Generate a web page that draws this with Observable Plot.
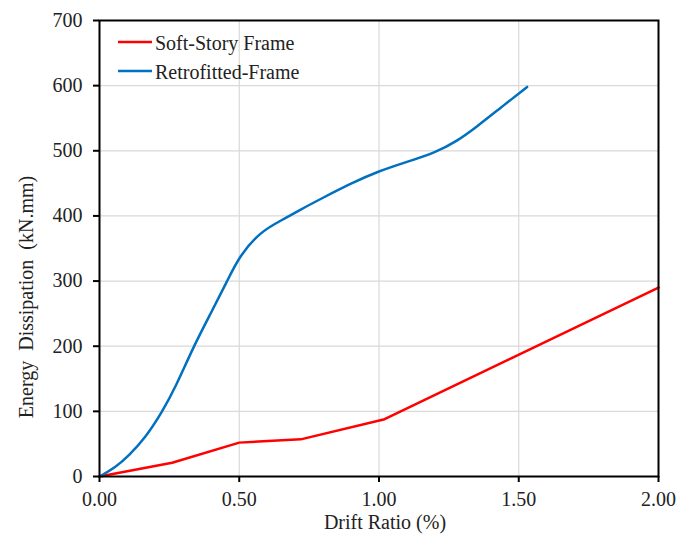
<!DOCTYPE html>
<html><head><meta charset="utf-8">
<script src="https://cdn.jsdelivr.net/npm/d3@7"></script>
<script src="https://cdn.jsdelivr.net/npm/@observablehq/plot@0.6"></script>
<style>
body{margin:0;background:#fff}
#chart{position:relative;width:689px;height:547px}
</style>
</head><body><div id="chart"></div>
<script>
const seriesNames = ["Soft-Story Frame", "Retrofitted-Frame"];
const seriesColors = ["#ff0000", "#0070c0"];
const softDrift  = [0, 0.26, 0.50, 0.72, 1.02, 2.00];
const softEnergy = [0, 21, 52, 57, 88, 290];
const retroDrift  = [0, 0.057, 0.105, 0.165, 0.224, 0.272, 0.337, 0.40, 0.457, 0.50, 0.576, 0.65, 0.72, 0.80, 0.90, 1.00, 1.10, 1.20, 1.28, 1.35, 1.435, 1.53];
const retroEnergy = [0, 14, 32, 60, 99, 137, 200, 252, 300, 338, 376, 393, 410, 428, 450, 469, 483, 497, 515, 537, 566, 598];
const xTicks = [0, 0.5, 1.0, 1.5, 2.0];
const yTicks = [0, 100, 200, 300, 400, 500, 600, 700];
const xLabel = "Drift Ratio (%)";
const yLabel = "Energy  Dissipation  (kN.mm)";

const soft = softDrift.map((d, i) => ({x: d, y: softEnergy[i]}));
const retro = retroDrift.map((d, i) => ({x: d, y: retroEnergy[i]}));

const font = "'Liberation Serif', 'Times New Roman', serif";
const chart = Plot.plot({
  width: 689,
  height: 547,
  marginLeft: 99,
  marginRight: 31,
  marginTop: 20,
  marginBottom: 71,
  x: {domain: [0, 2]},
  y: {domain: [0, 700]},
  style: {fontFamily: font, fontSize: "20px", color: "#222", background: "white"},
  marks: [
    Plot.gridX(xTicks, {stroke: "#d9d9d9", strokeOpacity: 1, strokeWidth: 1.2}),
    Plot.gridY(yTicks, {stroke: "#d9d9d9", strokeOpacity: 1, strokeWidth: 1.2}),
    Plot.line(soft, {x: "x", y: "y", stroke: seriesColors[0], strokeWidth: 2.5, curve: "linear"}),
    Plot.line(retro, {x: "x", y: "y", stroke: seriesColors[1], strokeWidth: 2.5, curve: "basis"}),
    Plot.frame({stroke: "black", strokeWidth: 2}),
    Plot.axisX(xTicks, {tickFormat: d => d.toFixed(2), tickSize: 6, tickPadding: 9, stroke: "black", strokeWidth: 2, fontSize: 20, label: null, fill: "#222"}),
    Plot.axisY(yTicks, {tickFormat: d => String(d), tickSize: 6, tickPadding: 11, stroke: "black", strokeWidth: 2, fontSize: 20, label: null, fill: "#222"})
  ]
});
document.getElementById("chart").appendChild(chart);

const svg = d3.select(chart);
// axis titles
svg.append("text")
  .attr("transform", "translate(33,297) rotate(-90)")
  .attr("text-anchor", "middle")
  .style("white-space", "pre")
  .attr("font-family", font).attr("font-size", 20).attr("fill", "#222")
  .text(yLabel);
svg.append("text")
  .attr("x", 385).attr("y", 529)
  .attr("text-anchor", "middle")
  .attr("font-family", font).attr("font-size", 20).attr("fill", "#222")
  .text(xLabel);
// legend
const leg = svg.append("g");
seriesNames.forEach((name, i) => {
  const yy = 42 + i * 29;
  leg.append("line").attr("x1", 118).attr("x2", 152).attr("y1", yy).attr("y2", yy)
    .attr("stroke", seriesColors[i]).attr("stroke-width", 2.5);
  leg.append("text").attr("x", 155).attr("y", yy + 7.5)
    .attr("text-anchor", "start")
    .attr("font-family", font).attr("font-size", 20).attr("fill", "#222")
    .text(name);
});
</script>
</body></html>
